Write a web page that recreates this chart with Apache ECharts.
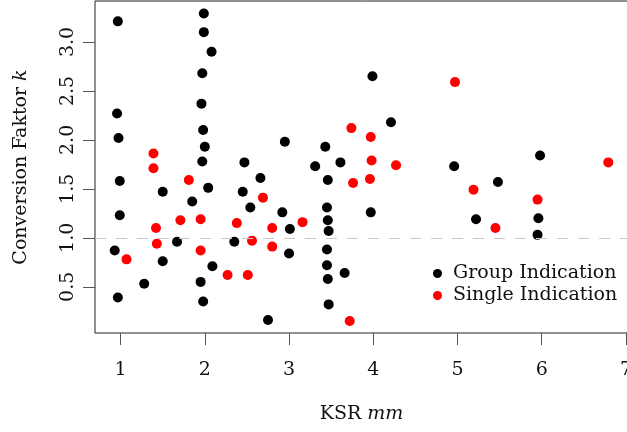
<!DOCTYPE html>
<html>
<head>
<meta charset="utf-8">
<script src="https://cdn.jsdelivr.net/npm/echarts@6/dist/echarts.min.js"></script>
<style>
  html, body { margin: 0; padding: 0; background: #fff; }
  #chart { width: 627px; height: 432px; }
</style>
</head>
<body>
<div id="chart"></div>
<script>
// Group Indication (black)
const groupX = [0.967, 1.988, 1.988, 2.08, 1.97, 0.958, 1.96, 0.975, 1.98, 2.0, 1.97, 0.99, 1.50, 2.04, 1.85, 0.99, 1.67, 0.93, 1.50, 2.09, 1.28, 1.95, 0.967, 1.98,
  3.99, 4.21, 2.95, 3.43, 2.47, 3.31, 3.61, 2.66, 3.46, 2.45, 2.54, 2.92, 3.45, 3.97, 3.46, 3.01, 3.47, 2.35, 3.00, 3.45, 3.45, 3.66, 3.46, 3.47, 2.75,
  4.96, 5.98, 5.48, 5.22, 5.96, 5.95];
const groupY = [3.21, 3.29, 3.10, 2.90, 2.68, 2.27, 2.37, 2.02, 2.10, 1.93, 1.78, 1.58, 1.47, 1.51, 1.37, 1.23, 0.96, 0.87, 0.76, 0.71, 0.53, 0.55, 0.39, 0.35,
  2.65, 2.18, 1.98, 1.93, 1.77, 1.73, 1.77, 1.61, 1.59, 1.47, 1.31, 1.26, 1.31, 1.26, 1.18, 1.09, 1.07, 0.96, 0.84, 0.88, 0.72, 0.64, 0.58, 0.32, 0.16,
  1.73, 1.84, 1.57, 1.19, 1.20, 1.03];
// Single Indication (red)
const singleX = [1.39, 1.39, 1.81, 1.71, 1.95, 1.42, 1.43, 1.95, 1.07, 2.27, 3.74, 3.97, 3.98, 4.27, 3.76, 3.96, 2.69, 2.38, 3.16, 2.80, 2.56, 2.80, 2.51, 3.72,
  4.97, 6.79, 5.19, 5.95, 5.45];
const singleY = [1.86, 1.71, 1.59, 1.18, 1.19, 1.10, 0.94, 0.87, 0.78, 0.62, 2.12, 2.03, 1.79, 1.74, 1.56, 1.60, 1.41, 1.15, 1.16, 1.10, 0.97, 0.91, 0.62, 0.15,
  2.59, 1.77, 1.49, 1.39, 1.10];
const seriesNames = ['Group Indication', 'Single Indication'];
const xTicks = [1, 2, 3, 4, 5, 6, 7];
const yTicks = [0.5, 1.0, 1.5, 2.0, 2.5, 3.0];
const refLineY = 1.0;

const FONT = 'DejaVu Serif';
const zip = (xs, ys) => xs.map((x, i) => [x, ys[i]]);

const chart = echarts.init(document.getElementById('chart'), null, { renderer: 'canvas' });
chart.setOption({
  animation: false,
  backgroundColor: '#ffffff',
  grid: {
    left: 95, top: 1, width: 533, height: 332,
    containLabel: false, outerBoundsMode: 'none',
    show: true, borderColor: '#222', borderWidth: 1, backgroundColor: 'transparent'
  },
  legend: {
    orient: 'vertical',
    left: 428, top: 259,
    itemWidth: 9, itemHeight: 9, itemGap: 3,
    icon: 'circle',
    data: seriesNames,
    textStyle: { fontFamily: FONT, fontSize: 19, color: '#111', lineHeight: 19, padding: [0, 0, 0, 6] }
  },
  xAxis: {
    type: 'value', min: 0.696, max: 7.024,
    name: 'KSR {i|mm}', nameLocation: 'middle', nameGap: 72,
    nameTextStyle: { fontFamily: FONT, fontSize: 19, color: '#111',
      rich: { i: { fontFamily: FONT, fontSize: 19, fontStyle: 'italic', color: '#111' } } },
    axisLine: { show: false },
    axisTick: { show: true, length: 12, lineStyle: { color: '#555' }, customValues: xTicks },
    axisLabel: { fontFamily: FONT, fontSize: 19, color: '#111', margin: 28, customValues: xTicks },
    splitLine: { show: false }
  },
  yAxis: {
    type: 'value', min: 0.028, max: 3.418,
    name: 'Conversion Faktor {i|k}', nameLocation: 'middle', nameGap: 64, nameRotate: 90,
    nameTextStyle: { fontFamily: FONT, fontSize: 19, color: '#111',
      rich: { i: { fontFamily: FONT, fontSize: 19, fontStyle: 'italic', color: '#111' } } },
    axisLine: { show: false },
    axisTick: { show: true, length: 12, lineStyle: { color: '#555' }, customValues: yTicks },
    axisLabel: { fontFamily: FONT, fontSize: 19, color: '#111', margin: 17, rotate: 90,
      customValues: yTicks, formatter: v => v.toFixed(1) },
    splitLine: { show: false }
  },
  series: [
    {
      name: seriesNames[0], type: 'scatter', symbol: 'circle', symbolSize: 10,
      itemStyle: { color: '#000', opacity: 1 },
      data: zip(groupX, groupY),
      markLine: {
        silent: true, symbol: 'none', label: { show: false },
        lineStyle: { color: '#c8c8c8', type: [11, 10], width: 1.2 },
        data: [{ yAxis: refLineY }]
      },
      z: 3
    },
    {
      name: seriesNames[1], type: 'scatter', symbol: 'circle', symbolSize: 10,
      itemStyle: { color: '#ff0000', opacity: 1 },
      data: zip(singleX, singleY),
      z: 4
    }
  ]
});
</script>
</body>
</html>
